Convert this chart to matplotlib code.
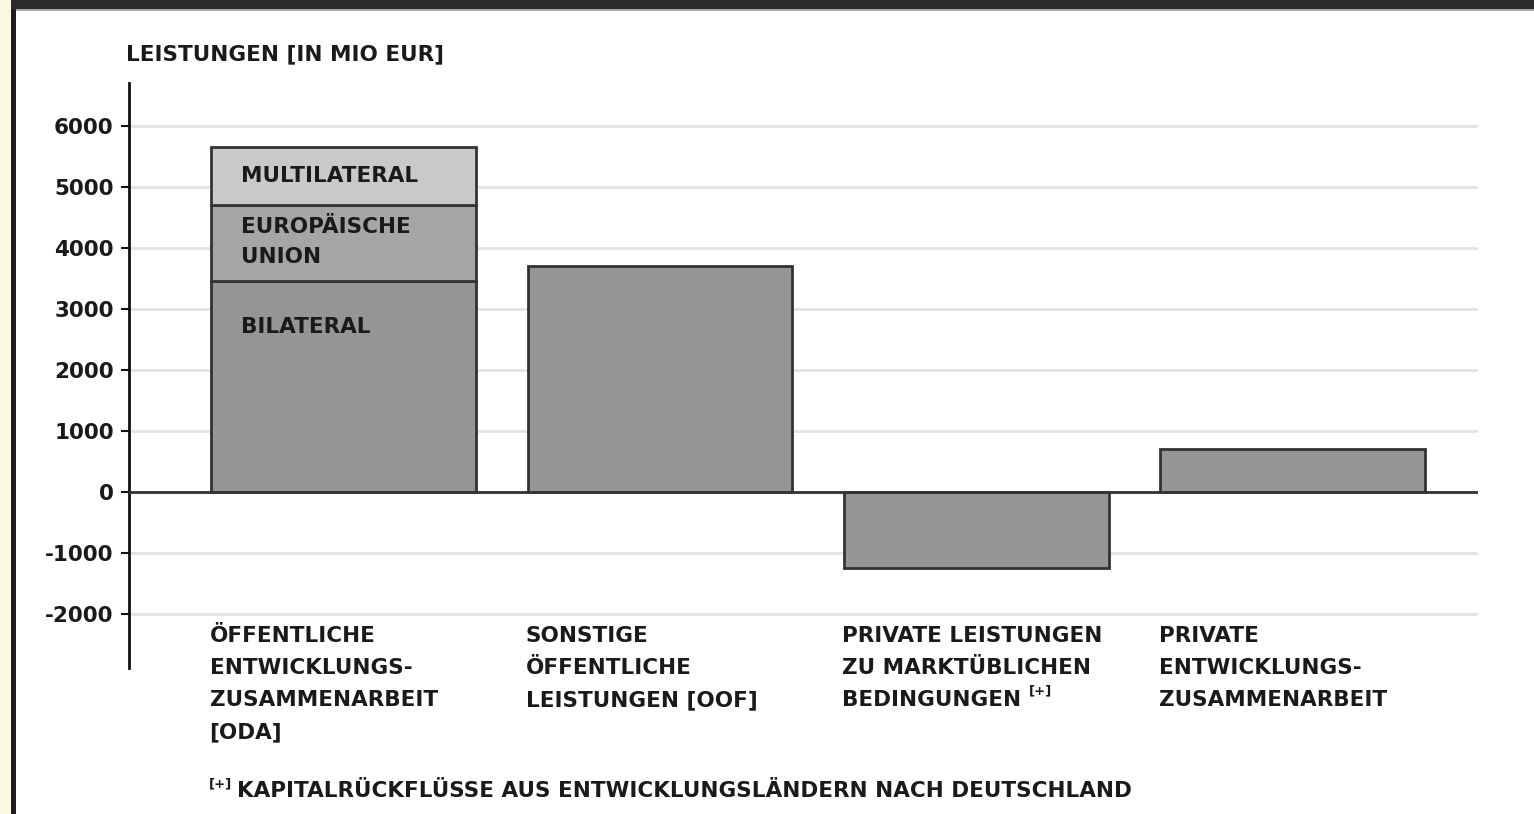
import matplotlib
matplotlib.use("Agg")
import matplotlib.pyplot as plt
from matplotlib.patches import Rectangle

W, H = 1534, 814

categories = ["ÖFFENTLICHE\nENTWICKLUNGS-\nZUSAMMENARBEIT\n[ODA]",
              "SONSTIGE\nÖFFENTLICHE\nLEISTUNGEN [OOF]",
              "PRIVATE LEISTUNGEN\nZU MARKTÜBLICHEN\nBEDINGUNGEN",
              "PRIVATE\nENTWICKLUNGS-\nZUSAMMENARBEIT"]
footnote_category = 2
oda_bilateral = 3460
oda_eu = 1245
oda_multilateral = 950
other_values = [3705, -1245, 705]
yticks = [-2000, -1000, 0, 1000, 2000, 3000, 4000, 5000, 6000]
segment_labels = ["BILATERAL", "EUROPÄISCHE\nUNION", "MULTILATERAL"]
ylabel = "LEISTUNGEN [IN MIO EUR]"
footnote_mark = "[+]"
footnote = "KAPITALRÜCKFLÜSSE AUS ENTWICKLUNGSLÄNDERN NACH DEUTSCHLAND"

FS = 15.5
TXT = "#1a1a1a"
font = dict(fontsize=FS, fontweight="bold", color=TXT)

fig = plt.figure(figsize=(W / 100, H / 100), dpi=100)
fig.patch.set_facecolor("white")

# frame decorations
fig.patches.append(Rectangle((0, 0), 11 / W, 1, transform=fig.transFigure,
                             facecolor="#fdf8e2", edgecolor="none", zorder=0))
fig.patches.append(Rectangle((11 / W, 0), 5 / W, 1, transform=fig.transFigure,
                             facecolor="#1e1e1e", edgecolor="none", zorder=1))
fig.patches.append(Rectangle((11 / W, 1 - 9 / H), 1, 9 / H, transform=fig.transFigure,
                             facecolor="#2b2b2b", edgecolor="none", zorder=1))
fig.patches.append(Rectangle((16 / W, 1 - 11 / H), 1, 2 / H, transform=fig.transFigure,
                             facecolor="#aaaaaa", edgecolor="none", zorder=1))

ax = fig.add_axes([129 / W, 1 - 668 / H, (1478 - 129) / W, (668 - 83) / H])
ax.set_facecolor("none")
ax.set_xlim(-0.678, 3.585)
ax.set_ylim(-2885, 6705)

for yv in yticks:
    ax.axhline(yv, color="#e3e3e3", lw=2, zorder=0)
ax.axhline(0, color="#333333", lw=2, zorder=3)

x = list(range(len(categories)))
bw = 0.837
edge = "#333333"
lw = 2
ax.bar(x[0], oda_bilateral, width=bw, color="#959595", edgecolor=edge, linewidth=lw, zorder=2)
ax.bar(x[0], oda_eu, bottom=oda_bilateral, width=bw, color="#a6a6a6", edgecolor=edge, linewidth=lw, zorder=2)
ax.bar(x[0], oda_multilateral, bottom=oda_bilateral + oda_eu, width=bw, color="#c9c9c9",
       edgecolor=edge, linewidth=lw, zorder=2)
ax.bar(x[1:], other_values, width=bw, color="#959595", edgecolor=edge, linewidth=lw, zorder=2)

# segment labels (pixel offsets converted via figure coordinates)
fig.text(241 / W, 1 - 327 / H, segment_labels[0], va="center", ha="left", **font)
fig.text(241 / W, 1 - 242 / H, segment_labels[1], va="center", ha="left", linespacing=1.66, **font)
fig.text(241 / W, 1 - 176 / H, segment_labels[2], va="center", ha="left", **font)

# category labels, drawn line by line below the axis bottom tick
for xi, lab in zip(x, categories):
    lines = lab.split("\n")
    last = None
    for j, line in enumerate(lines):
        last = ax.annotate(line, xy=(xi - bw / 2 - 0.005, yticks[0]), xycoords="data",
                           xytext=(0, -22 - 32 * j), textcoords="offset pixels",
                           va="center", ha="left", annotation_clip=False, **font)
    if xi == footnote_category:
        ax.annotate(footnote_mark, xy=(1, 1), xycoords=last, xytext=(7, 6),
                    textcoords="offset pixels", va="top", ha="left",
                    fontsize=9.5, fontweight="bold", color=TXT, annotation_clip=False)

for s in ["top", "right", "bottom"]:
    ax.spines[s].set_visible(False)
ax.spines["left"].set_color("#111111")
ax.spines["left"].set_linewidth(2)
ax.set_xticks([])
ax.set_yticks(yticks)
ax.set_yticklabels([str(v) for v in yticks], **font)
ax.tick_params(axis="y", direction="out", length=6, width=1.5, color="#111111", pad=5)

fig.text(126 / W, 1 - 54 / H, ylabel, va="center", ha="left", **font)
fig.text(209 / W, 1 - 784 / H, footnote_mark, fontsize=9.5, fontweight="bold", color=TXT,
         va="center", ha="left")
fig.text(237 / W, 1 - 791 / H, footnote, va="center", ha="left", **font)

fig.savefig("out.png", dpi=100)
